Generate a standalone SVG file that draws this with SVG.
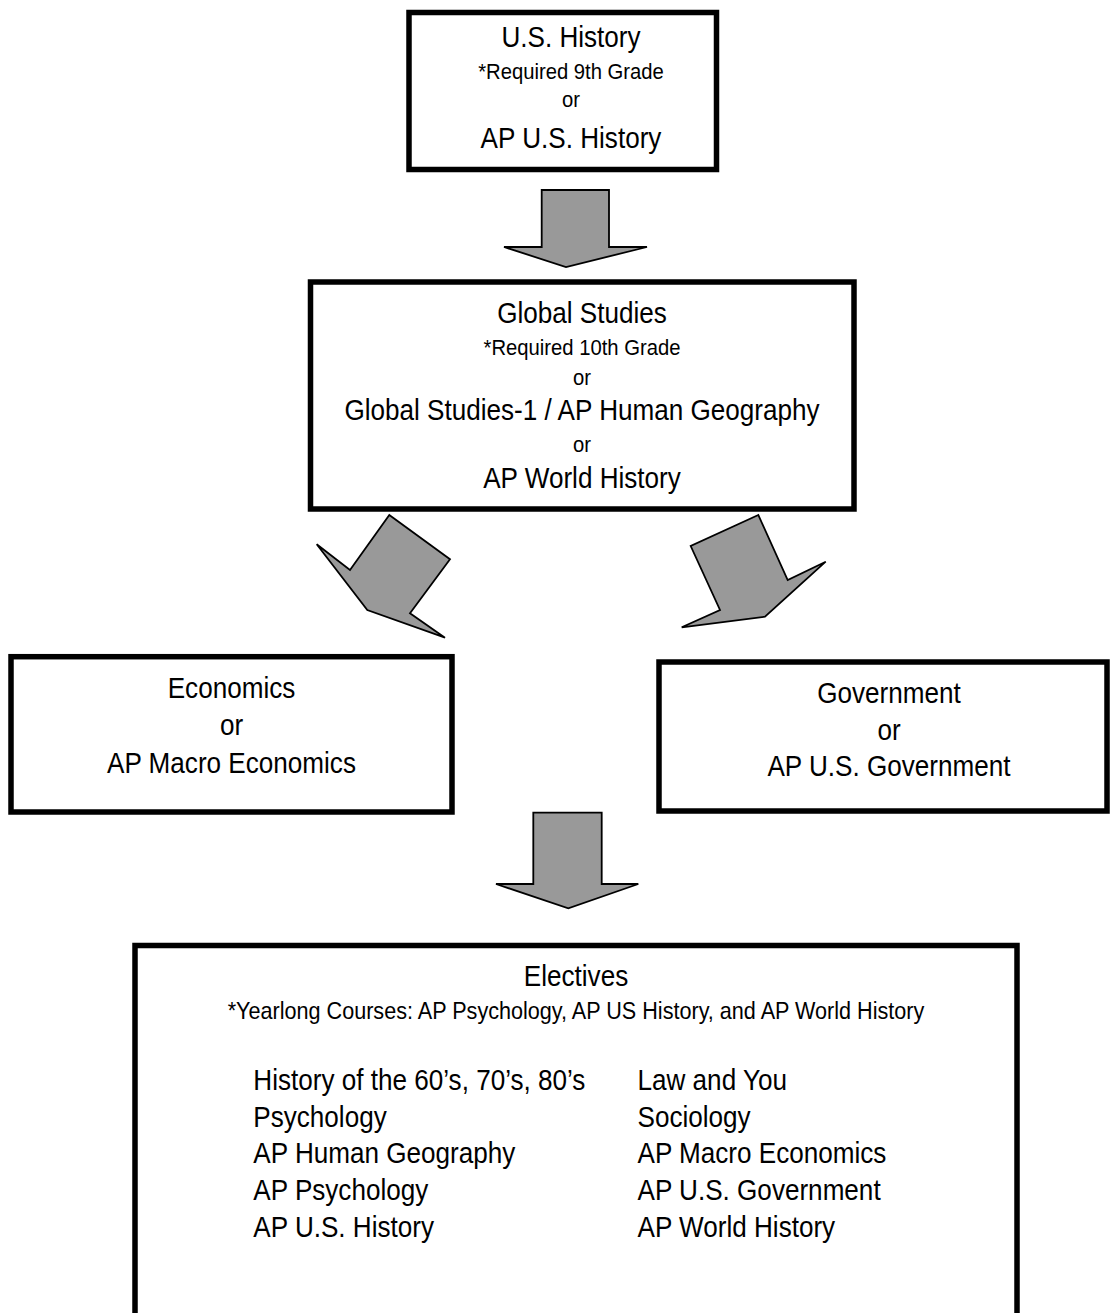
<svg xmlns="http://www.w3.org/2000/svg" width="1112" height="1313" viewBox="0 0 1112 1313">
<style>
.box{fill:#ffffff;stroke:#000000;stroke-width:5.5}
.arr{fill:#999999;stroke:#000000;stroke-width:1.8;stroke-linejoin:miter}
text{font-family:"Liberation Sans",Arial,sans-serif;fill:#000000}
.c{text-anchor:middle}
.L{font-size:29px}
.S{font-size:22.5px}
.M{font-size:24px}
</style>
<rect width="1112" height="1313" fill="#ffffff"/>
<g id="connectors">
<path class="arr" d="M541.7,190 L609,190 L609,247 L647,247 L566,267 L504,247 L541.7,247 Z"/>
<path class="arr" d="M389.3,515 L450,559.3 L410,613.3 L445,637.7 L367.3,610 L316.7,544.3 L350,570 Z"/>
<path class="arr" d="M758.3,515 L690.7,546 L720,610 L681.7,627.3 L765,616.7 L825.7,561.7 L787.7,580 Z"/>
<path class="arr" d="M533.3,812.7 L601.7,812.7 L601.7,884 L638.3,884 L568.3,908.3 L496,884 L533.3,884 Z"/>
</g>
<g id="node-us-history">
<rect class="box" x="409" y="12.5" width="307.5" height="157"/>
<text class="c L" transform="translate(571 46.7) scale(0.9 1)">U.S. History</text>
<text class="c S" transform="translate(571 79) scale(0.9 1)">*Required 9th Grade</text>
<text class="c S" transform="translate(571 107) scale(0.9 1)">or</text>
<text class="c L" transform="translate(571 148.3) scale(0.9 1)">AP U.S. History</text>
</g>
<g id="node-global-studies">
<rect class="box" x="310.5" y="282" width="543.5" height="227"/>
<text class="c L" transform="translate(582 323.3) scale(0.9 1)">Global Studies</text>
<text class="c S" transform="translate(582 355) scale(0.9 1)">*Required 10th Grade</text>
<text class="c S" transform="translate(582 385) scale(0.9 1)">or</text>
<text class="c L" transform="translate(582 420) scale(0.9 1)">Global Studies-1 / AP Human Geography</text>
<text class="c S" transform="translate(582 451.7) scale(0.9 1)">or</text>
<text class="c L" transform="translate(582 488.3) scale(0.9 1)">AP World History</text>
</g>
<g id="node-economics">
<rect class="box" x="11" y="656.7" width="441" height="155.3"/>
<text class="c L" transform="translate(231.5 698.3) scale(0.9 1)">Economics</text>
<text class="c L" transform="translate(231.5 735) scale(0.9 1)">or</text>
<text class="c L" transform="translate(231.5 773.3) scale(0.9 1)">AP Macro Economics</text>
</g>
<g id="node-government">
<rect class="box" x="659" y="662" width="448" height="149"/>
<text class="c L" transform="translate(889 703.3) scale(0.9 1)">Government</text>
<text class="c L" transform="translate(889 740) scale(0.9 1)">or</text>
<text class="c L" transform="translate(889 776) scale(0.9 1)">AP U.S. Government</text>
</g>
<g id="node-electives">
<rect class="box" x="135" y="945.5" width="882" height="420"/>
<text class="c L" transform="translate(576 985.7) scale(0.9 1)">Electives</text>
<text class="c M" transform="translate(576 1019) scale(0.9 1)">*Yearlong Courses: AP Psychology, AP US History, and AP World History</text>
<text class="L" transform="translate(253.3 1090) scale(0.9 1)">History of the 60’s, 70’s, 80’s</text>
<text class="L" transform="translate(253.3 1126.7) scale(0.9 1)">Psychology</text>
<text class="L" transform="translate(253.3 1163.3) scale(0.9 1)">AP Human Geography</text>
<text class="L" transform="translate(253.3 1200) scale(0.9 1)">AP Psychology</text>
<text class="L" transform="translate(253.3 1236.7) scale(0.9 1)">AP U.S. History</text>
<text class="L" transform="translate(637.5 1090) scale(0.9 1)">Law and You</text>
<text class="L" transform="translate(637.5 1126.7) scale(0.9 1)">Sociology</text>
<text class="L" transform="translate(637.5 1163.3) scale(0.9 1)">AP Macro Economics</text>
<text class="L" transform="translate(637.5 1200) scale(0.9 1)">AP U.S. Government</text>
<text class="L" transform="translate(637.5 1236.7) scale(0.9 1)">AP World History</text>
</g>
</svg>
